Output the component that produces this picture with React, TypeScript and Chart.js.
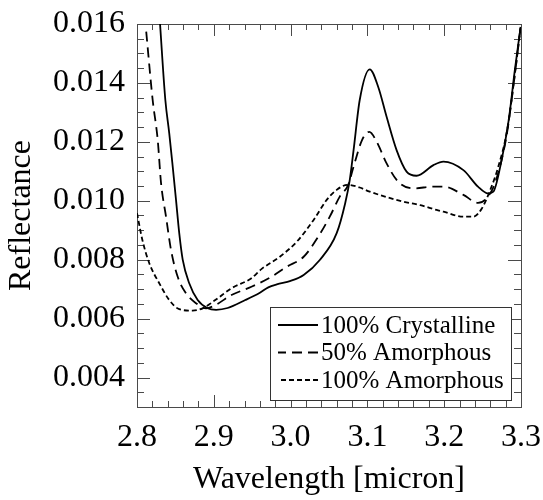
import React, { useEffect, useRef } from "react";
import { Chart, registerables } from "chart.js";
Chart.register(...registerables);

const crystallineX = [2.83, 2.8369, 2.842, 2.8465, 2.8508, 2.855, 2.8595, 2.868, 2.879, 2.892, 2.903, 2.918, 2.941, 2.96, 2.971, 2.982, 3.0, 3.017, 3.038, 3.06, 3.071, 3.077, 3.082, 3.09, 3.103, 3.114, 3.125, 3.138, 3.151, 3.164, 3.186, 3.199, 3.225, 3.244, 3.257, 3.264, 3.273, 3.284, 3.292, 3.2995];
const crystallineY = [0.016, 0.01342, 0.01229, 0.01116, 0.01003, 0.0089, 0.008, 0.0072, 0.00663, 0.00635, 0.0063, 0.00636, 0.00663, 0.00688, 0.00706, 0.00716, 0.00728, 0.00748, 0.00799, 0.0089, 0.00991, 0.0107, 0.01172, 0.01342, 0.01446, 0.01387, 0.01285, 0.01172, 0.01099, 0.01085, 0.01121, 0.01133, 0.01104, 0.01048, 0.01025, 0.01031, 0.01116, 0.01274, 0.01444, 0.0159];

const halfAmorphousX = [2.812, 2.8204, 2.827, 2.8313, 2.8378, 2.8443, 2.853, 2.8638, 2.877, 2.89, 2.902, 2.923, 2.949, 2.975, 2.995, 3.017, 3.036, 3.051, 3.064, 3.075, 3.082, 3.093, 3.1025, 3.112, 3.125, 3.14, 3.16, 3.186, 3.199, 3.225, 3.244, 3.255, 3.266, 3.281, 3.292, 3.2995];
const halfAmorphousY = [0.01574, 0.01342, 0.01206, 0.0106, 0.00946, 0.00833, 0.00742, 0.00686, 0.00652, 0.00635, 0.00646, 0.0068, 0.00708, 0.00742, 0.00776, 0.0081, 0.00878, 0.00946, 0.01014, 0.01054, 0.01116, 0.01206, 0.01234, 0.01201, 0.01127, 0.01065, 0.01042, 0.01048, 0.01048, 0.0102, 0.00993, 0.01008, 0.01059, 0.01218, 0.0143, 0.0159];

const fullAmorphousX = [2.8, 2.807, 2.816, 2.829, 2.842, 2.855, 2.8725, 2.8855, 2.902, 2.923, 2.949, 2.962, 2.986, 3.008, 3.03, 3.047, 3.06, 3.074, 3.09, 3.103, 3.147, 3.169, 3.19, 3.199, 3.225, 3.238, 3.249, 3.26, 3.2705, 3.282, 3.292, 3.2995];
const fullAmorphousY = [0.00958, 0.00867, 0.00788, 0.0072, 0.00663, 0.00632, 0.00627, 0.00635, 0.00663, 0.00703, 0.00737, 0.00768, 0.0081, 0.00861, 0.00935, 0.01003, 0.01037, 0.01054, 0.01045, 0.01031, 0.00997, 0.00985, 0.00969, 0.00963, 0.00946, 0.00946, 0.00974, 0.01037, 0.01116, 0.0124, 0.0143, 0.0159];

const seriesLabels = ["100% Crystalline", "50% Amorphous", "100% Amorphous"];
const xTickValues = [2.8, 2.9, 3.0, 3.1, 3.2, 3.3];
const yTickValues = [0.004, 0.006, 0.008, 0.01, 0.012, 0.014, 0.016];
const xMinorStep = 0.02;
const yMinorStep = 0.0005;

const FONT = "'Liberation Serif', 'Times New Roman', serif";
const FRAME = "#4a4a4a";

function toPoints(xs: number[], ys: number[]) {
  return xs.map((x, i) => ({ x, y: ys[i] }));
}

const framePlugin = {
  id: "frameTicks",
  beforeDatasetsDraw(chart: any) {
    const { ctx, chartArea: a, scales } = chart;
    const xs = scales.x;
    const ys = scales.y;
    ctx.save();
    ctx.strokeStyle = FRAME;
    ctx.lineWidth = 1;
    ctx.strokeRect(Math.round(a.left) + 0.5, Math.round(a.top) + 0.5, Math.round(a.right - a.left), Math.round(a.bottom - a.top));
    ctx.beginPath();
    const nx = Math.round((xs.max - xs.min) / xMinorStep);
    for (let i = 0; i <= nx; i++) {
      const v = xs.min + i * xMinorStep;
      const px = Math.round(xs.getPixelForValue(v)) + 0.5;
      const major = i % 5 === 0;
      const len = major ? 12 : 6;
      ctx.moveTo(px, a.bottom);
      ctx.lineTo(px, a.bottom - len);
      ctx.moveTo(px, a.top);
      ctx.lineTo(px, a.top + len);
    }
    const ny = Math.round((ys.max - ys.min) / yMinorStep);
    for (let i = 0; i <= ny; i++) {
      const v = ys.min + i * yMinorStep;
      const py = Math.round(ys.getPixelForValue(v)) + 0.5;
      const k = Math.round(v * 1000);
      const major = Math.abs(k - v * 1000) < 1e-6 && k % 2 === 0;
      const len = major ? 13 : 7;
      ctx.moveTo(a.left, py);
      ctx.lineTo(a.left + len, py);
      ctx.moveTo(a.right, py);
      ctx.lineTo(a.right - len, py);
    }
    ctx.stroke();
    ctx.restore();
  },
  afterDatasetsDraw(chart: any) {
    const { ctx, chartArea: a } = chart;
    const w = 241;
    const h = 93;
    const x0 = Math.round(a.right - 10 - w);
    const y0 = Math.round(a.bottom - 7 - h);
    ctx.save();
    ctx.fillStyle = "#ffffff";
    ctx.fillRect(x0, y0, w, h);
    ctx.strokeStyle = "#333";
    ctx.lineWidth = 1;
    ctx.strokeRect(x0 + 0.5, y0 + 0.5, w, h);
    chart.data.datasets.forEach((ds: any, i: number) => {
      const yy = y0 + 18 + i * 27.5;
      ctx.beginPath();
      ctx.strokeStyle = "#000";
      ctx.lineWidth = 1.8;
      ctx.setLineDash(ds.borderDash || []);
      ctx.moveTo(x0 + 48, yy);
      ctx.lineTo(x0 + 8, yy);
      ctx.stroke();
      ctx.setLineDash([]);
      ctx.fillStyle = "#000";
      ctx.font = `25px ${FONT}`;
      ctx.textBaseline = "middle";
      ctx.textAlign = "left";
      ctx.fillText(ds.label, x0 + 51, yy + 1);
    });
    ctx.restore();
  },
};

export default function App() {
  const ref = useRef<HTMLCanvasElement>(null);
  useEffect(() => {
    if (!ref.current) return;
    const common = {
      showLine: true,
      pointRadius: 0,
      borderColor: "#000",
      backgroundColor: "#000",
      borderWidth: 1.8,
      fill: false,
      cubicInterpolationMode: "monotone" as const,
    };
    const chart = new Chart(ref.current, {
      type: "scatter",
      data: {
        datasets: [
          { ...common, label: seriesLabels[0], data: toPoints(crystallineX, crystallineY), borderDash: [] },
          { ...common, label: seriesLabels[1], data: toPoints(halfAmorphousX, halfAmorphousY), borderDash: [10, 6] },
          { ...common, label: seriesLabels[2], data: toPoints(fullAmorphousX, fullAmorphousY), borderDash: [5, 3] },
        ],
      },
      options: {
        animation: false,
        responsive: true,
        maintainAspectRatio: false,
        layout: { padding: { left: 0, top: 24, right: 22, bottom: 0 } },
        plugins: { legend: { display: false }, tooltip: { enabled: false } },
        scales: {
          x: {
            type: "linear",
            min: 2.8,
            max: 3.3,
            afterBuildTicks: (s: any) => {
              s.ticks = xTickValues.map((v) => ({ value: v }));
            },
            afterFit: (s: any) => {
              s.height = 93;
              s.paddingLeft = 0;
              s.paddingRight = 0;
            },
            grid: { display: false, drawTicks: false },
            border: { display: false },
            ticks: {
              color: "#000",
              font: { family: FONT, size: 32 },
              padding: 11,
              maxRotation: 0,
              autoSkip: false,
              callback: (v: any) => Number(v).toFixed(1),
            },
            title: {
              display: true,
              text: "Wavelength [micron]",
              color: "#000",
              font: { family: FONT, size: 32 },
              padding: { top: 0, bottom: 1 },
            },
          },
          y: {
            type: "linear",
            min: 0.003,
            max: 0.016,
            afterBuildTicks: (s: any) => {
              s.ticks = yTickValues.map((v) => ({ value: v }));
            },
            afterFit: (s: any) => {
              s.width = 137;
              s.paddingTop = 0;
              s.paddingBottom = 0;
            },
            grid: { display: false, drawTicks: false },
            border: { display: false },
            ticks: {
              color: "#000",
              font: { family: FONT, size: 32 },
              padding: 12,
              autoSkip: false,
              callback: (v: any) => Number(v).toFixed(3),
            },
            title: {
              display: true,
              text: "Reflectance",
              color: "#000",
              font: { family: FONT, size: 32 },
              padding: { top: 2, bottom: 0 },
            },
          },
        },
      },
      plugins: [framePlugin],
    });
    return () => chart.destroy();
  }, []);
  return (
    <div style={{ position: "fixed", left: 0, top: 0, width: 543, height: 500, background: "#fff" }}>
      <canvas ref={ref} />
    </div>
  );
}
